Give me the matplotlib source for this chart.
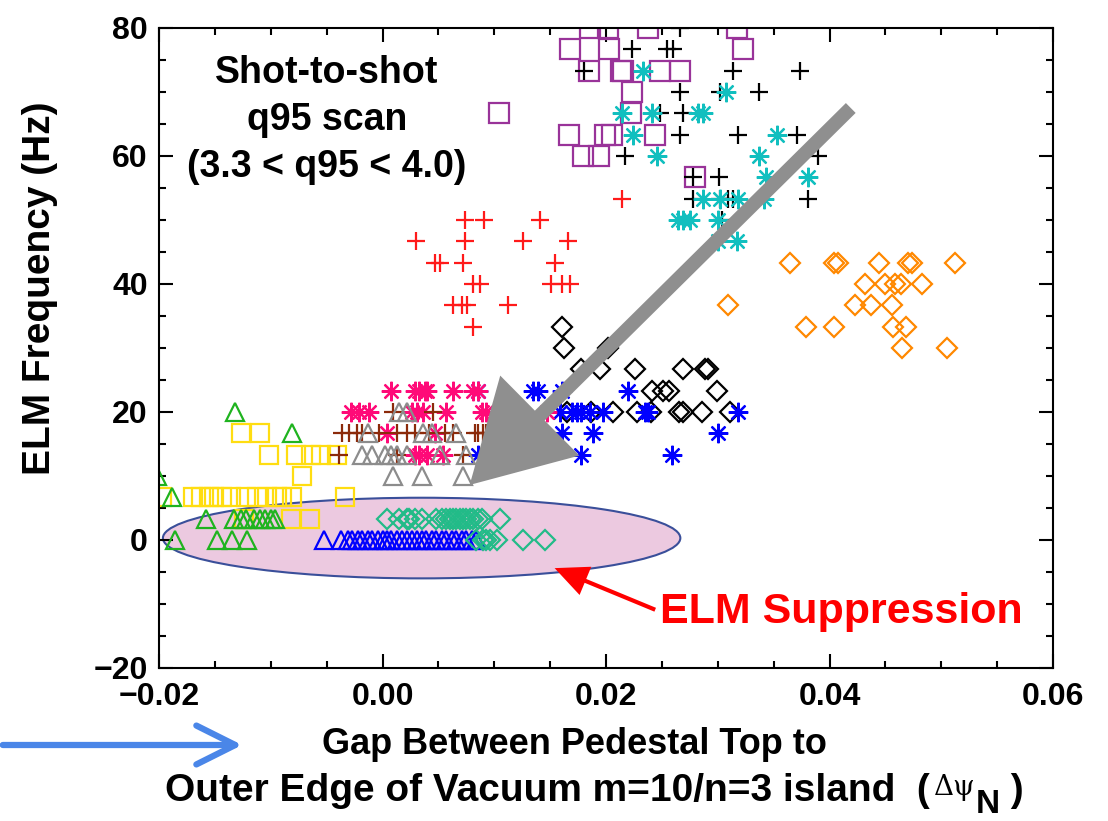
import matplotlib
matplotlib.use("Agg")
import matplotlib.pyplot as plt
from matplotlib.patches import Ellipse, FancyArrowPatch
from matplotlib.ticker import MultipleLocator

FONT = ['Liberation Sans', 'DejaVu Sans']
plt.rcParams['font.family'] = FONT
plt.rcParams['font.weight'] = 'bold'

# ELM frequency (Hz) vs gap (delta psi_N), one group per shot
yellow_x = [-0.0127, -0.0110, -0.0102, -0.0077, -0.0064, -0.0055, -0.0041, -0.0072,
            -0.0197, -0.0170, -0.0162, -0.0155, -0.0151, -0.0144, -0.0136, -0.0122,
            -0.0112, -0.0103, -0.0094, -0.0090, -0.0081, -0.0034, -0.0124, -0.0082, -0.0065]
yellow_y = [16.7, 16.7, 13.3, 13.3, 13.3, 13.3, 13.3, 10.0,
            6.7, 6.7, 6.7, 6.7, 6.7, 6.7, 6.7, 6.7,
            6.7, 6.7, 6.7, 6.7, 6.7, 6.7, 3.3, 3.3, 3.3]

green_x = [-0.0132, -0.0081, -0.0202, -0.0188, -0.0158, -0.0133, -0.0127, -0.0122,
           -0.0115, -0.0110, -0.0105, -0.0100, -0.0096, -0.0186, -0.0148, -0.0135, -0.0121]
green_y = [20.0, 16.7, 10.0, 6.7, 3.3, 3.3, 3.3, 3.3,
           3.3, 3.3, 3.3, 3.3, 3.3, 0.0, 0.0, 0.0, 0.0]

purple_x = [0.0186, 0.0202, 0.0238, 0.0317, 0.0168, 0.0203, 0.0323, 0.0185, 0.0213,
            0.0215, 0.0248, 0.0266, 0.0223, 0.0104, 0.0222, 0.0167, 0.0199, 0.0205,
            0.0244, 0.0179, 0.0194, 0.0280]
purple_y = [80.0, 80.0, 80.0, 80.0, 76.7, 76.7, 76.7, 73.3, 73.3,
            73.3, 73.3, 73.3, 70.0, 66.7, 66.7, 63.3, 63.3, 63.3,
            63.3, 60.0, 60.0, 56.7]

black_plus_x = [0.0266, 0.0223, 0.0255, 0.0260, 0.0180, 0.0314, 0.0374, 0.0266, 0.0302,
                0.0337, 0.0248, 0.0269, 0.0266, 0.0318, 0.0371, 0.0217, 0.0390, 0.0278,
                0.0301, 0.0278, 0.0302, 0.0309, 0.0314, 0.0381, 0.0304]
black_plus_y = [80.0, 76.7, 76.7, 76.7, 73.3, 73.3, 73.3, 70.0, 70.0,
                70.0, 66.7, 66.7, 63.3, 63.3, 63.3, 60.0, 60.0, 56.7,
                56.7, 53.3, 53.3, 53.3, 53.3, 53.3, 50.0]

cyan_x = [0.0233, 0.0307, 0.0214, 0.0241, 0.0282, 0.0287, 0.0224, 0.0353, 0.0246,
          0.0337, 0.0343, 0.0381, 0.0287, 0.0302, 0.0318, 0.0341, 0.0264, 0.0269,
          0.0275, 0.0300, 0.0300, 0.0317]
cyan_y = [73.3, 70.0, 66.7, 66.7, 66.7, 66.7, 63.3, 63.3, 60.0,
          60.0, 56.7, 56.7, 53.3, 53.3, 53.3, 53.3, 50.0, 50.0,
          50.0, 50.0, 46.7, 46.7]

red_x = [0.0214, 0.0074, 0.0091, 0.0141, 0.0030, 0.0074, 0.0126, 0.0166, 0.0047,
         0.0051, 0.0072, 0.0154, 0.0081, 0.0087, 0.0151, 0.0161, 0.0168, 0.0063,
         0.0071, 0.0076, 0.0112, 0.0081]
red_y = [53.3, 50.0, 50.0, 50.0, 46.7, 46.7, 46.7, 46.7, 43.3,
         43.3, 43.3, 43.3, 40.0, 40.0, 40.0, 40.0, 40.0, 36.7,
         36.7, 36.7, 36.7, 33.3]

orange_x = [0.0365, 0.0404, 0.0408, 0.0444, 0.0470, 0.0474, 0.0512, 0.0432, 0.0450,
            0.0459, 0.0464, 0.0483, 0.0423, 0.0437, 0.0456, 0.0309, 0.0379, 0.0404,
            0.0457, 0.0468, 0.0465, 0.0505]
orange_y = [43.3, 43.3, 43.3, 43.3, 43.3, 43.3, 43.3, 40.0, 40.0,
            40.0, 40.0, 40.0, 36.7, 36.7, 36.7, 36.7, 33.3, 33.3,
            33.3, 33.3, 30.0, 30.0]

black_dia_x = [0.0161, 0.0162, 0.0202, 0.0178, 0.0195, 0.0226, 0.0269, 0.0289, 0.0291,
               0.0241, 0.0251, 0.0256, 0.0299, 0.0165, 0.0187, 0.0206, 0.0228, 0.0240,
               0.0265, 0.0269, 0.0286, 0.0311]
black_dia_y = [33.3, 30.0, 30.0, 26.7, 26.7, 26.7, 26.7, 26.7, 26.7,
               23.3, 23.3, 23.3, 23.3, 20.0, 20.0, 20.0, 20.0, 20.0,
               20.0, 20.0, 20.0, 20.0]

blue_star_x = [0.0085, 0.0135, 0.0139, 0.0161, 0.0220, 0.0159, 0.0170, 0.0174, 0.0178,
               0.0186, 0.0197, 0.0235, 0.0238, 0.0318, 0.0138, 0.0161, 0.0188, 0.0300,
               0.0085, 0.0178, 0.0259]
blue_star_y = [23.3, 23.3, 23.3, 23.3, 23.3, 20.0, 20.0, 20.0, 20.0,
               20.0, 20.0, 20.0, 20.0, 20.0, 16.7, 16.7, 16.7, 16.7,
               13.3, 13.3, 13.3]

pink_x = [0.0008, 0.0029, 0.0033, 0.0038, 0.0040, 0.0063, 0.0081, 0.0085,
          -0.0028, -0.0021, -0.0012, 0.0026, 0.0031, 0.0036, 0.0057, 0.0089, 0.0093, 0.0147,
          0.0004, 0.0047, 0.0029, 0.0033, 0.0040, 0.0054]
pink_y = [23.3, 23.3, 23.3, 23.3, 23.3, 23.3, 23.3, 23.3,
          20.0, 20.0, 20.0, 20.0, 20.0, 20.0, 20.0, 20.0, 20.0, 20.0,
          16.7, 16.7, 13.3, 13.3, 13.3, 13.3]

brown_x = [0.0009, 0.0045, -0.0036, -0.0030, -0.0023, -0.0018, -0.0003, 0.0013, 0.0022,
           0.0029, 0.0042, 0.0056, 0.0063, 0.0083, 0.0085, 0.0090, 0.0093,
           -0.0039, 0.0013, 0.0072]
brown_y = [20.0, 20.0, 16.7, 16.7, 16.7, 16.7, 16.7, 16.7, 16.7,
           16.7, 16.7, 16.7, 16.7, 16.7, 16.7, 16.7, 16.7,
           13.3, 13.3, 13.3]

gray_x = [0.0015, 0.0022, -0.0013, 0.0036, 0.0044, 0.0066, -0.0018, -0.0009, 0.0002,
          0.0008, 0.0013, 0.0022, 0.0051, 0.0075, 0.0009, 0.0035, 0.0072]
gray_y = [20.0, 20.0, 16.7, 16.7, 16.7, 16.7, 13.3, 13.3, 13.3,
          13.3, 13.3, 13.3, 13.3, 13.3, 10.0, 10.0, 10.0]

blue_tri_x = [-0.0052, -0.0037, -0.0031, -0.0027, -0.0022, -0.0018, -0.0013, -0.0009,
              -0.0004, 0.0000, 0.0004, 0.0008, 0.0013, 0.0017, 0.0022, 0.0026, 0.0031,
              0.0035, 0.0039, 0.0044, 0.0048, 0.0053, 0.0057, 0.0062, 0.0066, 0.0071,
              0.0075, 0.0080, 0.0084]
blue_tri_y = [0.0] * len(blue_tri_x)

teal_x = [0.0004, 0.0015, 0.0022, 0.0024, 0.0029, 0.0035, 0.0048, 0.0053, 0.0057, 0.0060,
          0.0063, 0.0066, 0.0069, 0.0072, 0.0075, 0.0078, 0.0081, 0.0085, 0.0089, 0.0105,
          0.0084, 0.0090, 0.0093, 0.0096, 0.0102, 0.0126, 0.0145]
teal_y = [3.3] * 20 + [0.0] * 7

# (x, y, marker, size, colour)
groups = [
    (yellow_x, yellow_y, 's', 13, '#ffdd11'),
    (green_x, green_y, '^', 13.5, '#1fb31f'),
    (purple_x, purple_y, 's', 14, '#993399'),
    (black_plus_x, black_plus_y, '+', 13, 'black'),
    (cyan_x, cyan_y, (8, 2, 0), 14, '#11bfbf'),
    (red_x, red_y, '+', 13, '#ff1a1a'),
    (orange_x, orange_y, 'D', 10.5, '#ff8800'),
    (black_dia_x, black_dia_y, 'D', 10.5, 'black'),
    (blue_star_x, blue_star_y, (8, 2, 0), 14, '#0000ff'),
    (pink_x, pink_y, (8, 2, 0), 14, '#ff0a78'),
    (brown_x, brown_y, '+', 13, '#8b2a0a'),
    (gray_x, gray_y, '^', 13.5, '#8c8c8c'),
    (blue_tri_x, blue_tri_y, '^', 12.5, '#0000ff'),
    (teal_x, teal_y, 'D', 10.5, '#22bb88'),
]

fig = plt.figure(figsize=(11.08, 8.21), dpi=100)
ax = fig.add_axes([0.1435, 0.1864, 0.8069, 0.7795])

# ELM suppression window
ax.add_patch(Ellipse((0.0035, 0.3), 0.0463, 12.6, facecolor='#ecc9e0',
                     edgecolor='#3a4f9a', lw=1.5, zorder=1))

for gx, gy, mk, ms, col in groups:
    ax.plot(gx, gy, ls='none', marker=mk, ms=ms, mfc='none', mec=col, mew=1.6, zorder=2)

ax.set_xlim(-0.02, 0.06)
ax.set_ylim(-20, 80)
ax.set_xticks([-0.02, 0.0, 0.02, 0.04, 0.06])
ax.set_xticklabels(['\u22120.02', '0.00', '0.02', '0.04', '0.06'])
ax.set_yticks([-20, 0, 20, 40, 60, 80])
ax.set_yticklabels(['\u221220', '0', '20', '40', '60', '80'])
ax.xaxis.set_minor_locator(MultipleLocator(0.005))
ax.yaxis.set_minor_locator(MultipleLocator(5))
ax.tick_params(which='both', direction='in', top=True, right=True, width=1.5)
ax.tick_params(which='major', length=10, labelsize=23)
ax.tick_params(which='minor', length=5)
ax.tick_params(axis='x', pad=10)
ax.tick_params(axis='y', pad=8)
for s in ax.spines.values():
    s.set_linewidth(1.5)

# big gray trend arrow
ax.annotate('', xy=(0.0078, 8.6), xytext=(0.0419, 67.5),
            arrowprops=dict(width=10, headwidth=81, headlength=71, shrink=0,
                            fc='#8f8f8f', ec='none'), zorder=4)

# red pointer to the suppression ellipse
ax.annotate('', xy=(0.0154, -4.4), xytext=(0.0244, -10.9),
            arrowprops=dict(width=3, headwidth=22, headlength=24, shrink=0,
                            fc='#ff0000', ec='none'), zorder=4)

fig.text(0.596, 0.2546, 'ELM Suppression', color='#ff0000', fontsize=31,
         ha='left', va='center')

fig.text(0.295, 0.854, 'Shot-to-shot\nq95 scan\n(3.3 < q95 < 4.0)', fontsize=27,
         ha='center', va='center', multialignment='center', linespacing=1.4)

fig.text(0.036, 0.649, 'ELM Frequency (Hz)', fontsize=28,
         rotation=90, ha='center', va='center')

fig.text(0.518, 0.0926, 'Gap Between Pedestal Top to', fontsize=26,
         ha='center', va='center')
line2 = fig.text(0.149, 0.036, 'Outer Edge of Vacuum m=10/n=3 island  (', fontsize=28,
                 ha='left', va='center')
dpsi = plt.annotate('\u0394\u03c8', xy=(1, 0.62), xycoords=line2, xytext=(3, 0),
                    textcoords='offset points', fontsize=20, fontweight='normal',
                    family=['DejaVu Serif'], ha='left', va='center', annotation_clip=False)
sub_n = plt.annotate('N', xy=(1, 0.0), xycoords=dpsi, xytext=(0, -3),
                     textcoords='offset points', fontsize=24, ha='left', va='center',
                     annotation_clip=False)
plt.annotate(' )', xy=(1, 0.5), xycoords=(sub_n, line2), xytext=(0, 0),
             textcoords='offset points', fontsize=28, ha='left', va='center',
             annotation_clip=False)

# blue pointer under the axes (figure pixels, origin bottom-left)
fig.patches.append(FancyArrowPatch((0, 76), (245, 76), transform=None,
                                   arrowstyle='->,head_length=1.4,head_width=0.7',
                                   mutation_scale=20, lw=4.5, color='#4a86e8'))

fig.savefig('out.png', dpi=100)
